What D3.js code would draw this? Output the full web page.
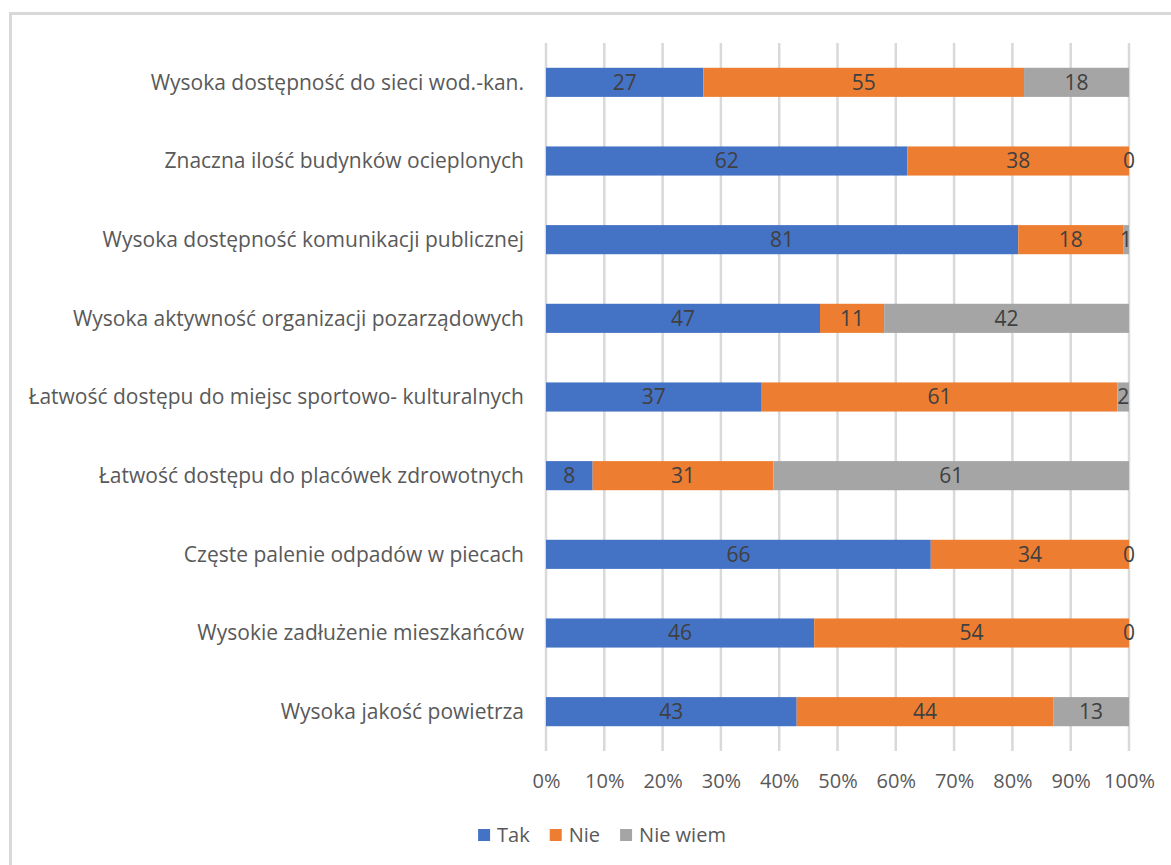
<!DOCTYPE html>
<html lang="pl">
<head>
<meta charset="UTF-8" />
<style>
  body { margin: 0; background: #fff; }
  svg text { font-family: "Open Sans", sans-serif; }
</style>
</head>
<body>
<svg width="1171" height="865"></svg>
<script src="https://d3js.org/d3.v7.min.js"></script>
<script>
// categories top to bottom
var categories = [
  "Wysoka dostępność do sieci wod.-kan.",
  "Znaczna ilość budynków ocieplonych",
  "Wysoka dostępność komunikacji publicznej",
  "Wysoka aktywność organizacji pozarządowych",
  "Łatwość dostępu do miejsc sportowo- kulturalnych",
  "Łatwość dostępu do placówek zdrowotnych",
  "Częste palenie odpadów w piecach",
  "Wysokie zadłużenie mieszkańców",
  "Wysoka jakość powietrza"
];
var seriesNames = ["Tak", "Nie", "Nie wiem"];
var tak     = [27, 62, 81, 47, 37, 8, 66, 46, 43];
var nie     = [55, 38, 18, 11, 61, 31, 34, 54, 44];
var nieWiem = [18, 0, 1, 42, 2, 61, 0, 0, 13];
var tickValues = [0, 0.1, 0.2, 0.3, 0.4, 0.5, 0.6, 0.7, 0.8, 0.9, 1];

var colors = ["#4472C4", "#ED7D31", "#A5A5A5"];

var svg = d3.select("svg");

// outer chart border (runs off the right/bottom edge)
svg.append("rect")
  .attr("x", 10.5).attr("y", 13.5)
  .attr("width", 1200).attr("height", 900)
  .attr("fill", "none")
  .attr("stroke", "#d9d9d9")
  .attr("stroke-width", 3);

var x = d3.scaleLinear().domain([0, 1]).range([546, 1129]);
var y = d3.scaleBand().domain(categories).range([43, 751])
  .paddingInner(0.63).paddingOuter(0.315);

// gridlines
svg.append("g").selectAll("line")
  .data(tickValues)
  .enter().append("line")
  .attr("x1", d => x(d)).attr("x2", d => x(d))
  .attr("y1", 43).attr("y2", 751)
  .attr("stroke", "#d9d9d9")
  .attr("stroke-width", 2.5);

var rows = categories.map(function (c, i) {
  return { cat: c, Tak: tak[i], Nie: nie[i], "Nie wiem": nieWiem[i] };
});

var stack = d3.stack().keys(seriesNames)
  .value((d, k) => d[k] / (d.Tak + d.Nie + d["Nie wiem"]));
var layers = stack(rows);

var g = svg.append("g");
layers.forEach(function (layer, li) {
  g.append("g").selectAll("rect")
    .data(layer)
    .enter().append("rect")
    .attr("x", d => x(d[0]))
    .attr("width", d => x(d[1]) - x(d[0]))
    .attr("y", d => y(d.data.cat))
    .attr("height", y.bandwidth())
    .attr("fill", colors[li]);
});

// data labels
layers.forEach(function (layer, li) {
  g.append("g").selectAll("text")
    .data(layer)
    .enter().append("text")
    .attr("x", d => (x(d[0]) + x(d[1])) / 2)
    .attr("y", d => y(d.data.cat) + y.bandwidth() / 2)
    .attr("dy", "0.35em")
    .attr("text-anchor", "middle")
    .attr("font-size", 21)
    .attr("fill", "#404040")
    .text(d => d.data[layer.key]);
});

// category labels
svg.append("g").selectAll("text")
  .data(categories)
  .enter().append("text")
  .attr("x", 524)
  .attr("y", d => y(d) + y.bandwidth() / 2)
  .attr("dy", "0.35em")
  .attr("text-anchor", "end")
  .attr("font-size", 21)
  .attr("fill", "#595959")
  .text(d => d);

// x axis tick labels
var xAxis = d3.axisBottom(x).tickValues(tickValues)
  .tickFormat(d3.format(".0%")).tickSize(0).tickPadding(0);
var ax = svg.append("g").attr("transform", "translate(0,781)").call(xAxis);
ax.select(".domain").remove();
ax.selectAll("text")
  .attr("dy", "0.35em")
  .attr("font-size", 20)
  .attr("font-family", "Open Sans, sans-serif")
  .attr("fill", "#595959");

// legend
var legend = svg.append("g");
var lx = 0;
seriesNames.forEach(function (name, i) {
  var item = legend.append("g").attr("transform", "translate(" + lx + ",0)");
  item.append("rect")
    .attr("x", 0).attr("y", -6)
    .attr("width", 12).attr("height", 12)
    .attr("fill", colors[i]);
  var t = item.append("text")
    .attr("x", 19).attr("y", 0)
    .attr("dy", "0.35em")
    .attr("font-size", 20)
    .attr("fill", "#595959")
    .text(name);
  lx += 19 + t.node().getComputedTextLength() + 20;
});
var legendWidth = lx - 20;
legend.attr("transform", "translate(" + (602 - legendWidth / 2) + ",835)");
</script>
</body>
</html>
